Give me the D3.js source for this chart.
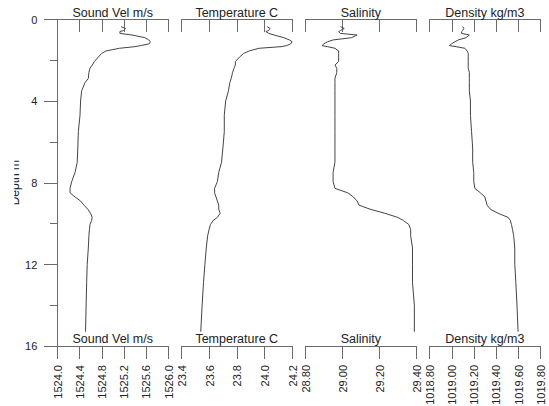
<!DOCTYPE html>
<html>
<head>
<meta charset="utf-8">
<script src="https://cdn.jsdelivr.net/npm/d3@7"></script>
<style>
  body { margin: 0; background: #fff; }
  svg { display: block; font-family: "Liberation Sans", Arial, sans-serif; }
  .axis path, .axis line { stroke: #6a6a6a; stroke-width: 1; shape-rendering: crispEdges; }
  .axis text { fill: #222; font-size: 11px; font-family: "Liberation Sans", Arial, sans-serif; }
  .title { fill: #222; font-size: 12.5px; }
  .profile { fill: none; stroke: #444; stroke-width: 1; }
</style>
</head>
<body>
<div id="chart"></div>
<script>
// depth of each sample (m)
var depth = [0.36, 0.45, 0.55, 0.6, 0.69, 0.77, 0.9, 1.01, 1.1, 1.2, 1.29, 1.34, 1.42, 1.55, 1.67, 1.85,
    2.07, 2.24, 2.4, 2.6, 2.9, 3.1, 3.5, 4.0, 4.7, 5.5, 6.3, 7.0, 7.5, 7.95, 8.28, 8.5, 8.7, 8.9, 9.1,
    9.3, 9.5, 9.7, 9.85, 10.05, 10.3, 10.6, 11.2, 12.0, 12.9, 14.0, 15.3];

var soundVel = [1525.15, 1525.23, 1525.20, 1525.13, 1525.13, 1525.35, 1525.58, 1525.65, 1525.68, 1525.66,
    1525.50, 1525.40, 1525.12, 1524.88, 1524.80, 1524.74, 1524.67, 1524.63, 1524.59, 1524.57, 1524.56,
    1524.50, 1524.44, 1524.42, 1524.41, 1524.38, 1524.37, 1524.36, 1524.32, 1524.26, 1524.23, 1524.23,
    1524.32, 1524.42, 1524.48, 1524.55, 1524.60, 1524.63, 1524.62, 1524.59, 1524.58, 1524.57, 1524.56,
    1524.54, 1524.53, 1524.52, 1524.51];

var temperature = [24.02, 24.04, 24.03, 24.01, 24.03, 24.07, 24.14, 24.18, 24.20, 24.19, 24.16, 24.12,
    23.96, 23.89, 23.85, 23.82, 23.79, 23.79, 23.78, 23.77, 23.76, 23.75, 23.74, 23.72, 23.71, 23.71,
    23.70, 23.69, 23.67, 23.66, 23.64, 23.64, 23.65, 23.66, 23.67, 23.67, 23.68, 23.66, 23.63, 23.61,
    23.60, 23.59, 23.58, 23.57, 23.56, 23.55, 23.54];

var salinity = [28.99, 29.01, 28.99, 28.98, 28.99, 29.08, 29.05, 28.95, 28.92, 28.90, 28.89, 28.92, 28.96,
    28.98, 28.98, 28.98, 28.98, 28.96, 28.97, 28.97, 28.96, 28.96, 28.96, 28.96, 28.96, 28.96, 28.96,
    28.96, 28.95, 28.95, 28.96, 29.03, 29.06, 29.08, 29.09, 29.15, 29.23, 29.30, 29.33, 29.36, 29.37,
    29.37, 29.38, 29.38, 29.38, 29.39, 29.39];

var density = [1019.10, 1019.11, 1019.10, 1019.09, 1019.09, 1019.16, 1019.13, 1019.06, 1019.03, 1019.00,
    1018.98, 1019.04, 1019.12, 1019.14, 1019.15, 1019.15, 1019.15, 1019.15, 1019.15, 1019.16, 1019.16,
    1019.16, 1019.16, 1019.17, 1019.17, 1019.18, 1019.19, 1019.19, 1019.20, 1019.20, 1019.21, 1019.26,
    1019.30, 1019.31, 1019.32, 1019.35, 1019.42, 1019.51, 1019.53, 1019.54, 1019.55, 1019.56, 1019.57,
    1019.57, 1019.58, 1019.59, 1019.60];

// panel titles and tick labels
var titles = ["Sound Vel m/s", "Temperature C", "Salinity", "Density kg/m3"];
var soundTicks = [1524.0, 1524.4, 1524.8, 1525.2, 1525.6, 1526.0];
var tempTicks = [23.4, 23.6, 23.8, 24.0, 24.2];
var salTicks = [28.80, 29.00, 29.20, 29.40];
var densTicks = [1018.80, 1019.00, 1019.20, 1019.40, 1019.60, 1019.80];
var depthTicks = [0, 4, 8, 12, 16];
var depthMinor = [2, 6, 10, 14];

var panels = [
    {title: titles[0], values: soundVel, ticks: soundTicks, fmt: ".1f"},
    {title: titles[1], values: temperature, ticks: tempTicks, fmt: ".1f"},
    {title: titles[2], values: salinity, ticks: salTicks, fmt: ".2f"},
    {title: titles[3], values: density, ticks: densTicks, fmt: ".2f"}
];

var W = 549, H = 406;
var top0 = 19.3, bot0 = 346, panelW = 110.8, panelStep = 124.05, left0 = 57.3;

var svg = d3.select("#chart").append("svg").attr("width", W).attr("height", H);

var y = d3.scaleLinear().domain([0, 16]).range([top0, bot0]);

// depth axis
svg.append("g").attr("class", "axis")
    .attr("transform", "translate(" + left0 + ",0)")
    .call(d3.axisLeft(y).tickValues(depthTicks).tickSize(13).tickSizeOuter(0).tickPadding(7).tickFormat(d3.format("d")))
    .call(function (g) { g.selectAll("text").attr("dy", "0.36em"); });

svg.append("g").attr("class", "axis")
    .attr("transform", "translate(" + left0 + ",0)")
    .call(d3.axisLeft(y).tickValues(depthMinor).tickSize(7).tickSizeOuter(0).tickFormat(""))
    .call(function (g) { g.select(".domain").remove(); });

// depth label, cut off on the left like the original
svg.append("clipPath").attr("id", "ylab").append("rect")
    .attr("x", 14.3).attr("y", 0).attr("width", 20).attr("height", H);

svg.append("g").attr("clip-path", "url(#ylab)")
    .append("text").attr("class", "title")
    .attr("transform", "translate(19.3," + y(8) + ") rotate(-90)")
    .attr("text-anchor", "middle")
    .style("font-size", "12px")
    .text("Depth m");

var line = d3.line();

panels.forEach(function (p, i) {
    var x0 = left0 + i * panelStep;
    var x = d3.scaleLinear()
        .domain([p.ticks[0], p.ticks[p.ticks.length - 1]])
        .range([x0, x0 + panelW]);

    // top axis, ticks pointing into the plot
    svg.append("g").attr("class", "axis")
        .attr("transform", "translate(0," + top0 + ")")
        .call(d3.axisBottom(x).tickValues(p.ticks).tickSize(13).tickSizeOuter(13).tickFormat(""));

    // bottom axis with rotated labels
    svg.append("g").attr("class", "axis")
        .attr("transform", "translate(0," + bot0 + ")")
        .call(d3.axisBottom(x).tickValues(p.ticks).tickSize(13).tickSizeOuter(13).tickFormat(d3.format(p.fmt)))
        .call(function (g) {
            g.selectAll("text")
                .attr("transform", "rotate(-90)")
                .attr("x", -19).attr("y", 0)
                .attr("dy", "0.36em")
                .attr("text-anchor", "end");
        });

    svg.append("text").attr("class", "title")
        .attr("x", x0 + panelW / 2).attr("y", 16.5)
        .attr("text-anchor", "middle").text(p.title);

    svg.append("text").attr("class", "title")
        .attr("x", x0 + panelW / 2).attr("y", 343)
        .attr("text-anchor", "middle").text(p.title);

    line.x(function (d) { return x(d[1]); }).y(function (d) { return y(d[0]); });

    svg.append("path").attr("class", "profile")
        .attr("d", line(d3.zip(depth, p.values)));
});
</script>
</body>
</html>
